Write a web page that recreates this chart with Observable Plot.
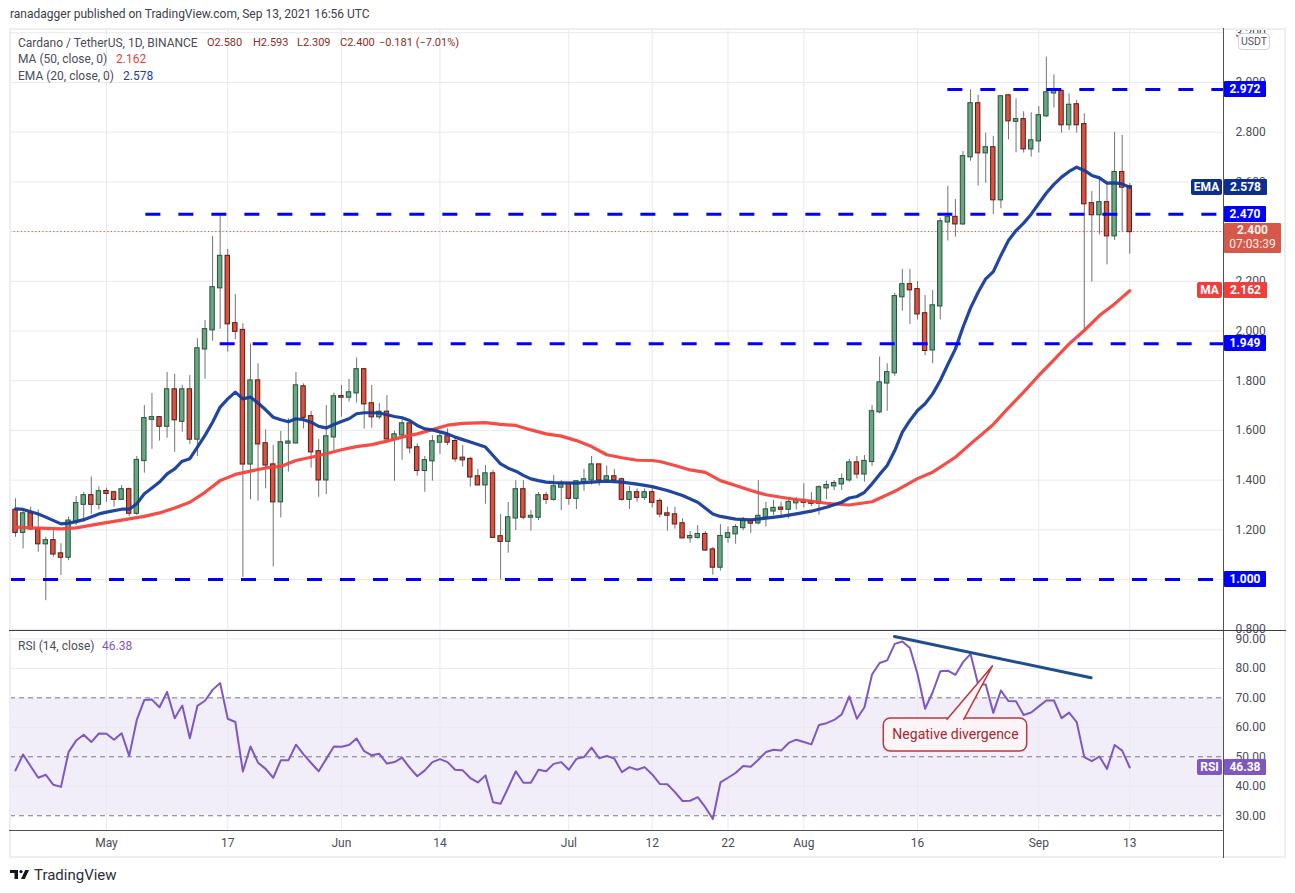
<!DOCTYPE html>
<html><head><meta charset="utf-8">
<script src="https://cdn.jsdelivr.net/npm/d3@7"></script>
<script src="https://cdn.jsdelivr.net/npm/@observablehq/plot@0.6"></script>
<style>
body{margin:0;background:#fff;font-family:Roboto,"Open Sans",sans-serif;}
#root{position:relative;width:1295px;height:893px;overflow:hidden;background:#fff}
#root svg{position:absolute;left:0}
.t{position:absolute;white-space:nowrap;font-size:12px;line-height:16px;color:#4a4d57}
.lbl{position:absolute;color:#fff;font-weight:700;font-size:12px;text-align:center;box-sizing:border-box;white-space:nowrap}
.ln{position:absolute}
</style></head><body><div id="root"></div><script>
// ---------- data ----------
const startDay = "2021-04-19";
const open = [1.278,1.190,1.264,1.200,1.144,1.156,1.103,1.090,1.235,1.303,
1.337,1.303,1.354,1.349,1.323,1.361,1.267,1.479,1.645,1.651,
1.617,1.763,1.637,1.763,1.565,1.928,2.005,2.174,2.300,2.029,
2.002,1.465,1.799,1.546,1.461,1.313,1.549,1.550,1.775,1.655,
1.514,1.401,1.574,1.736,1.734,1.751,1.844,1.707,1.655,1.673,
1.566,1.582,1.626,1.530,1.439,1.478,1.553,1.574,1.555,1.488,
1.483,1.413,1.381,1.425,1.172,1.154,1.248,1.361,1.251,1.251,
1.337,1.323,1.372,1.384,1.327,1.393,1.401,1.461,1.401,1.413,
1.401,1.323,1.349,1.331,1.349,1.314,1.264,1.260,1.224,1.168,
1.170,1.181,1.119,1.050,1.170,1.184,1.209,1.233,1.228,1.251,
1.276,1.287,1.283,1.309,1.318,1.314,1.307,1.369,1.377,1.385,
1.401,1.469,1.425,1.475,1.675,1.791,1.832,2.138,2.186,2.166,
2.069,1.924,2.101,2.439,2.457,2.431,2.701,2.914,2.717,2.737,
2.528,2.946,2.844,2.850,2.733,2.765,2.866,2.958,2.964,2.830,
2.910,2.830,2.512,2.468,2.516,2.383,2.637,2.580];
const high = [1.325,1.284,1.291,1.280,1.170,1.197,1.144,1.251,1.334,1.351,
1.412,1.372,1.368,1.355,1.378,1.368,1.495,1.700,1.749,1.656,
1.833,1.825,1.781,1.821,1.969,2.042,2.380,2.473,2.328,2.147,
2.029,1.948,1.868,1.602,1.539,1.596,1.647,1.833,1.787,1.677,
1.563,1.700,1.750,1.781,1.805,1.891,1.849,1.781,1.708,1.740,
1.597,1.643,1.632,1.546,1.495,1.579,1.593,1.606,1.573,1.539,
1.492,1.443,1.459,1.439,1.262,1.310,1.398,1.398,1.278,1.350,
1.351,1.419,1.398,1.388,1.396,1.443,1.495,1.463,1.457,1.443,
1.409,1.374,1.365,1.365,1.374,1.325,1.291,1.291,1.245,1.193,
1.217,1.193,1.130,1.221,1.211,1.221,1.250,1.244,1.398,1.311,
1.318,1.311,1.321,1.331,1.385,1.350,1.378,1.396,1.398,1.425,
1.483,1.495,1.499,1.700,1.895,1.868,2.152,2.248,2.248,2.199,
2.143,2.163,2.454,2.582,2.529,2.722,2.971,2.948,2.796,2.783,
2.948,2.952,2.934,2.882,2.878,2.903,3.102,3.030,2.968,2.954,
2.928,2.874,2.561,2.622,2.592,2.799,2.787,2.593];
const low = [1.170,1.123,1.197,1.110,0.915,1.090,1.016,1.076,1.217,1.231,
1.262,1.280,1.311,1.291,1.318,1.254,1.258,1.428,1.524,1.557,
1.569,1.512,1.593,1.543,1.495,1.806,1.959,2.007,1.915,1.966,
1.009,1.321,1.315,1.365,1.050,1.248,1.432,1.545,1.606,1.448,
1.331,1.342,1.519,1.653,1.714,1.710,1.605,1.609,1.643,1.549,
1.396,1.480,1.506,1.416,1.351,1.396,1.503,1.539,1.472,1.452,
1.372,1.377,1.303,1.166,0.999,1.106,1.197,1.240,1.195,1.237,
1.302,1.315,1.278,1.299,1.282,1.355,1.380,1.376,1.388,1.385,
1.315,1.282,1.311,1.318,1.288,1.248,1.195,1.203,1.164,1.146,
1.162,1.114,1.017,1.034,1.146,1.142,1.196,1.186,1.220,1.211,
1.258,1.254,1.244,1.280,1.288,1.294,1.259,1.321,1.358,1.358,
1.392,1.405,1.392,1.455,1.667,1.677,1.818,2.080,2.026,2.045,
1.901,1.868,2.045,2.362,2.378,2.425,2.683,2.583,2.595,2.468,
2.492,2.769,2.717,2.716,2.700,2.716,2.858,2.897,2.796,2.807,
2.796,1.995,2.197,2.387,2.266,2.364,2.398,2.309];
const close = [1.190,1.264,1.204,1.144,1.156,1.103,1.090,1.235,1.305,1.337,
1.303,1.353,1.347,1.323,1.361,1.267,1.479,1.647,1.651,1.617,
1.763,1.643,1.763,1.565,1.928,2.005,2.174,2.300,2.029,1.999,
1.465,1.799,1.546,1.461,1.313,1.550,1.553,1.779,1.653,1.514,
1.401,1.574,1.735,1.734,1.751,1.844,1.707,1.655,1.673,1.566,
1.582,1.626,1.530,1.439,1.478,1.554,1.574,1.553,1.486,1.482,
1.413,1.381,1.425,1.170,1.154,1.248,1.361,1.251,1.254,1.337,
1.323,1.373,1.384,1.327,1.393,1.401,1.461,1.401,1.413,1.401,
1.323,1.349,1.331,1.349,1.311,1.264,1.259,1.224,1.168,1.173,
1.181,1.119,1.050,1.173,1.184,1.209,1.233,1.227,1.254,1.280,
1.286,1.283,1.310,1.318,1.311,1.307,1.369,1.378,1.386,1.402,
1.469,1.425,1.475,1.675,1.791,1.832,2.138,2.186,2.166,2.069,
1.922,2.101,2.439,2.457,2.431,2.701,2.914,2.717,2.737,2.528,
2.942,2.846,2.850,2.733,2.765,2.866,2.958,2.964,2.830,2.908,
2.830,2.512,2.468,2.516,2.383,2.637,2.579,2.400];
const rsi = [45.4,50.8,46.8,42.9,43.9,40.5,39.8,51.6,55.5,57.5,
55.0,57.9,57.8,55.8,58.0,50.3,62.5,69.3,69.4,66.8,
72.0,63.1,67.4,56.3,67.3,69.0,72.7,75.0,62.9,61.8,
45.0,53.5,48.0,45.9,42.9,48.8,48.8,54.1,50.8,47.9,
45.1,49.3,53.5,53.4,54.0,56.2,51.9,50.5,51.0,47.7,
48.2,49.7,46.3,43.4,45.4,48.2,49.2,48.2,45.6,45.4,
42.8,41.3,43.7,34.6,34.1,39.5,45.1,41.2,41.2,45.6,
45.1,47.6,48.2,45.6,49.3,49.9,53.1,49.5,50.3,49.4,
44.8,46.5,45.6,46.5,44.0,40.8,40.7,38.0,35.0,35.1,
36.3,32.9,28.9,41.3,42.9,44.5,46.9,46.6,49.0,51.6,
52.4,52.1,54.7,55.8,55.0,54.2,60.8,61.4,62.5,64.4,
70.5,62.9,66.8,77.9,81.8,82.7,88.3,89.1,86.9,78.1,
66.3,71.9,79.0,79.2,77.8,82.1,84.9,74.5,74.5,64.9,
72.5,68.9,68.8,64.2,65.0,67.1,69.1,69.1,63.1,65.0,
61.8,49.9,48.5,50.1,45.9,54.0,52.1,46.38];
const emaDay = [1,2,4,5,7,8,9,10,12,13,15,16,17,18,19,20,21,22,23,24,25,26,27,28,29,30,
31,32,33,34,35,36,37,38,39,40,41,42,43,44,45,46,47,48,49,50,51,52,53,54,55,56,
57,58,59,60,61,62,63,64,65,66,67,68,69,70,71,72,73,75,77,79,81,83,85,87,89,91,93,94,96,98,
100,102,104,106,108,110,111,112,113,114,115,116,117,118,119,120,121,122,123,124,125,126,127,
128,129,130,131,132,133,134,135,136,137,138,139,140,141,142,143,144,145,146,147,148];
const emaValue = [1.284,1.282,1.264,1.251,1.224,1.227,1.233,1.241,1.264,1.271,1.283,1.283,1.305,1.345,1.368,1.392,1.425,1.445,1.476,1.486,1.533,1.580,1.633,1.694,1.727,1.754,
1.727,1.734,1.710,1.683,1.653,1.643,1.635,1.647,1.643,1.633,1.616,1.610,1.624,1.636,1.647,1.667,1.671,1.671,1.670,1.663,1.656,1.651,1.640,1.620,1.606,1.602,
1.594,1.586,1.573,1.563,1.553,1.543,1.533,1.499,1.465,1.448,1.436,1.419,1.405,1.398,1.392,1.390,1.389,1.388,1.392,1.396,1.392,1.384,1.374,1.358,1.338,1.311,1.264,1.254,1.243,1.240,
1.247,1.254,1.264,1.275,1.291,1.311,1.328,1.334,1.351,1.385,1.423,1.459,1.519,1.593,1.640,1.680,1.707,1.747,1.801,1.865,1.928,2.015,2.093,
2.156,2.210,2.239,2.304,2.364,2.404,2.434,2.470,2.513,2.555,2.590,2.619,2.642,2.659,2.646,2.626,2.616,2.595,2.596,2.592,2.578];
const maDay = [1,4,7,9,12,16,18,20,22,24,26,28,30,32,34,36,38,40,42,44,46,48,50,52,54,56,58,60,63,65,67,69,71,73,75,77,79,81,83,85,86,88,90,92,94,96,98,100,102,104,106,108,110,111,114,117,120,122,125,127,130,132,134,136,138,140,142,144,146,148];
const maValue = [1.211,1.207,1.204,1.208,1.224,1.244,1.254,1.268,1.288,1.311,1.351,1.398,1.423,1.436,1.449,1.455,1.479,1.492,1.506,1.522,1.535,1.543,1.557,1.573,1.586,1.603,1.621,1.628,1.631,1.624,1.620,1.602,1.586,1.577,1.559,1.535,1.502,1.490,1.480,1.479,1.475,1.459,1.441,1.431,1.398,1.378,1.358,1.341,1.331,1.322,1.315,1.307,1.302,1.300,1.313,1.355,1.406,1.432,1.492,1.546,1.624,1.691,1.754,1.821,1.884,1.948,2.002,2.062,2.109,2.162];
const priceTicks = [0.8,1.0,1.2,1.4,1.6,1.8,2.0,2.2,2.4,2.6,2.8,3.0,3.2];
const hiddenPriceTicks = [1.0, 2.4];   // fully covered by the level / last-price tags
const rsiTicks = [30,40,50,60,70,80,90];
const rsiDashed = [30,50,70];
const tickDates = ["2021-05-01","2021-05-17","2021-06-01","2021-06-14","2021-07-01","2021-07-12","2021-07-22","2021-08-01","2021-08-16","2021-09-01","2021-09-13"];
const tickLabels = ["May","17","Jun","14","Jul","12","22","Aug","16","Sep","13"];
const levelValues = [2.972, 2.470, 1.949, 1.000];
const levelStartDay = [124, 18.2, 28, 0.34];
const lastPrice = 2.400;
const lastTime = "07:03:39";
const lastEma = 2.578, lastMa = 2.162, lastRsi = 46.38;
const divDay = [116.96, 142.9], divRsi = [90.8, 76.8];
const calloutText = "Negative divergence";
const calloutDay = [115.55, 134.47], calloutRsi = [51.8, 63.0];
const pointerDay = [123.9, 129.9, 126.1], pointerRsi = [62.7, 80.9, 62.7];

// ---------- helpers ----------
const DAY = 864e5;
const t0 = Date.parse(startDay);
const dayToDate = n => new Date(t0 + (n - 1) * DAY);
const xDomain = [dayToDate(0.34), dayToDate(160.5)];
const tickD = tickDates.map(s => new Date(s));
const labelOf = d => tickLabels[tickD.findIndex(t => +t === +d)] ?? "";
const candles = open.map((o, i) => ({date: dayToDate(i + 1), open: o, high: high[i], low: low[i], close: close[i], up: close[i] >= o}));
const ups = candles.filter(d => d.up), downs = candles.filter(d => !d.up);
const ema = emaDay.map((n, i) => ({date: dayToDate(n), value: emaValue[i]}));
const ma = maDay.map((n, i) => ({date: dayToDate(n), value: maValue[i]}));
const levels = levelValues.map((v, i) => ({value: v, start: dayToDate(levelStartDay[i]), end: xDomain[1]}));
const rsiData = rsi.map((v, i) => ({date: dayToDate(i + 1), value: v}));
const divData = divDay.map((n, i) => ({date: dayToDate(n), value: divRsi[i]}));
const callout = {x1: dayToDate(calloutDay[0]), x2: dayToDate(calloutDay[1]), y1: calloutRsi[0], y2: calloutRsi[1],
  xc: dayToDate((calloutDay[0] + calloutDay[1]) / 2), yc: (calloutRsi[0] + calloutRsi[1]) / 2};
const pointer = pointerDay.map((n, i) => ({date: dayToDate(n), value: pointerRsi[i]}));
const band = [{x1: xDomain[0], x2: xDomain[1], y1: 30, y2: 70}];
const half = 0.29;
const bx1 = d => new Date(+d.date - half * DAY), bx2 = d => new Date(+d.date + half * DAY);
const GRID = "#e8e9ee";
const W = 1295;
const style = {fontFamily: "Roboto, 'Open Sans', sans-serif", fontSize: "12px", color: "#4a4d57", background: "transparent", overflow: "visible"};
const root = document.getElementById("root");
const fmt3 = d3.format(".3f");

// ---------- price pane ----------
const pricePlot = Plot.plot({
  width: W, height: 630, marginLeft: 10, marginRight: 71, marginTop: 30, marginBottom: 2,
  style,
  x: {type: "utc", domain: xDomain, axis: null},
  y: {domain: [0.803, 3.209], axis: "right", ticks: priceTicks,
      tickFormat: v => hiddenPriceTicks.some(h => Math.abs(h - v) < 1e-9) ? "" : fmt3(v),
      tickSize: 0, tickPadding: 11, label: null},
  marks: [
    Plot.ruleY(priceTicks, {stroke: GRID}),
    Plot.ruleX(tickD, {stroke: GRID}),
    Plot.ruleY([lastPrice], {stroke: "#d75442", strokeWidth: 1, strokeDasharray: "1.2,2.4"}),
    Plot.ruleX(candles, {x: "date", y1: "low", y2: "high", stroke: "#737375", strokeWidth: 1}),
    Plot.rect(ups, {x1: bx1, x2: bx2, y1: "open", y2: "close", fill: "#6ba583", stroke: "#225437", strokeWidth: 1, insetTop: -0.6, insetBottom: -0.6}),
    Plot.rect(downs, {x1: bx1, x2: bx2, y1: "open", y2: "close", fill: "#d75442", stroke: "#5b1a13", strokeWidth: 1, insetTop: -0.6, insetBottom: -0.6}),
    Plot.line(ma, {x: "date", y: "value", stroke: "#f4433b", strokeWidth: 3.2, strokeOpacity: 0.95}),
    Plot.line(ema, {x: "date", y: "value", stroke: "#153c9a", strokeWidth: 3.2, strokeOpacity: 0.95}),
    Plot.ruleY(levels, {y: "value", x1: "start", x2: "end", stroke: "#0000ff", strokeWidth: 3, strokeDasharray: "15,18"})
  ]
});
pricePlot.style.top = "0px";
root.appendChild(pricePlot);

// ---------- RSI pane ----------
const rsiPlot = Plot.plot({
  width: W, height: 230, marginLeft: 10, marginRight: 71, marginTop: 1, marginBottom: 30,
  style,
  x: {type: "utc", domain: xDomain, ticks: tickD, tickFormat: labelOf, tickSize: 0, tickPadding: 8, label: null},
  y: {domain: [25.0, 92.5], axis: "right", ticks: rsiTicks, tickFormat: ".2f", tickSize: 0, tickPadding: 11, label: null},
  marks: [
    Plot.rect(band, {x1: "x1", x2: "x2", y1: "y1", y2: "y2", fill: "#7e57c2", fillOpacity: 0.1}),
    Plot.ruleY(rsiTicks.filter(t => !rsiDashed.includes(t)), {stroke: GRID}),
    Plot.ruleX(tickD, {stroke: GRID}),
    Plot.ruleY(rsiDashed, {stroke: "#787b86", strokeDasharray: "5,4"}),
    Plot.line(rsiData, {x: "date", y: "value", stroke: "#7e57c2", strokeWidth: 2, strokeLinejoin: "round"}),
    Plot.line(divData, {x: "date", y: "value", stroke: "#1f4d8e", strokeWidth: 3}),
    Plot.rect([callout], {x1: "x1", x2: "x2", y1: "y1", y2: "y2", fill: "#fcf4f6", stroke: "#b8393f", strokeWidth: 1.5, rx: 7}),
    Plot.line(pointer, {x: "date", y: "value", stroke: "#b8393f", fill: "#fcf4f6", strokeWidth: 1.5}),
    Plot.text([callout], {x: "xc", y: "yc", text: () => calloutText, fill: "#a8262f", fontSize: 14})
  ]
});
rsiPlot.style.top = "630px";
root.appendChild(rsiPlot);

// ---------- overlays ----------
function scaleFn(plot, name) {
  const s = plot.scale(name);
  return s && s.apply ? v => s.apply(v) : d3.scaleLinear(s.domain, s.range);
}
const yP = scaleFn(pricePlot, "y");
const yRs = scaleFn(rsiPlot, "y");
const yR = v => 630 + yRs(v);

function line(l, t, w, h, c) {
  const e = document.createElement("div"); e.className = "ln";
  Object.assign(e.style, {left: l + "px", top: t + "px", width: w + "px", height: h + "px", background: c});
  root.appendChild(e);
}
function box(l, t, w, h, bg, html, extra = {}) {
  const e = document.createElement("div"); e.className = "lbl";
  Object.assign(e.style, {left: l + "px", top: t + "px", width: w + "px", height: h + "px", background: bg,
    lineHeight: (extra.lh || h) + "px", borderRadius: (extra.r ?? 1) + "px", color: extra.color || "#fff"});
  e.innerHTML = html; root.appendChild(e);
}
function text(l, cy, str, color, size = 12, extra = {}) {
  const e = document.createElement("div"); e.className = "t";
  Object.assign(e.style, {left: l + "px", top: (cy - 8) + "px", color, fontSize: size + "px"}, extra);
  e.textContent = str; root.appendChild(e);
}

// frame
const fr = document.createElement("div");
Object.assign(fr.style, {position: "absolute", left: "9px", top: "28px", width: "1277px", height: "830px", border: "2px solid #eceef2", boxSizing: "border-box"});
root.appendChild(fr);
line(1223, 28, 1, 830, "#50535e");
line(9, 629.5, 1277, 1.5, "#3a3d46");
line(9, 830, 1215, 1, "#50535e");

// price labels
levelValues.forEach(v => box(1224, yP(v) - 8, 42, 16, "#0000ff", v.toFixed(3)));
box(1224, yP(lastEma) - 8, 43, 16, "#0c2e8e", lastEma.toFixed(3));
box(1191, yP(lastEma) - 8, 31, 16, "#0c2e8e", "EMA", {r: 2});
box(1224, yP(lastMa) - 8, 43, 16, "#f23d3d", lastMa.toFixed(3));
box(1197, yP(lastMa) - 8, 25, 16, "#f23d3d", "MA", {r: 2});
box(1224, yP(lastPrice) - 8, 57, 30, "#d6584a", lastPrice.toFixed(3) + "<br><span style='font-weight:400'>" + lastTime + "</span>", {lh: 14, color: "#fff3f0"});
// USDT tag
const u = document.createElement("div");
Object.assign(u.style, {position: "absolute", left: "1238px", top: "33px", width: "32px", height: "17px", border: "1px solid #d1d4dc", borderRadius: "4px", background: "#fff", boxSizing: "border-box", fontSize: "10.5px", lineHeight: "15px", textAlign: "center", color: "#50535e"});
u.textContent = "USDT"; root.appendChild(u);
// RSI labels
box(1224, yR(lastRsi) - 8, 42, 16, "#7e57c2", lastRsi.toFixed(2));
box(1197, yR(lastRsi) - 8, 25, 16, "#7e57c2", "RSI", {r: 2});

// legends / header
text(10, 14, "ranadagger published on TradingView.com, Sep 13, 2021 16:56 UTC", "#3b3e47", 12);
text(18, 43, "Cardano / TetherUS, 1D, BINANCE", "#4a4d57");
const vc = "#8a2d24";
text(207, 43, "O2.580", vc, 11); text(253, 43, "H2.593", vc, 11); text(297, 43, "L2.309", vc, 11); text(340, 43, "C2.400", vc, 11);
text(379, 43, "\u22120.181 (\u22127.01%)", vc, 11);
text(18, 59, "MA (50, close, 0)", "#4a4d57"); text(116, 59, lastMa.toFixed(3), "#f23c3c");
text(18, 76, "EMA (20, close, 0)", "#4a4d57"); text(123, 76, lastEma.toFixed(3), "#1d3fa3");
text(18, 646, "RSI (14, close)", "#4a4d57"); text(102, 646, lastRsi.toFixed(2), "#7e57c2");

// logo
const logo = document.createElement("div");
Object.assign(logo.style, {position: "absolute", left: "10px", top: "866px", height: "18px", display: "flex", alignItems: "center", gap: "4px"});
logo.innerHTML = "<svg width='20' height='10' viewBox='0 0 20 10' style='position:static'><path d='M0 0h8v9H4.5V3H0z' fill='#131722'/><circle cx='11' cy='1.6' r='1.6' fill='#131722'/><path d='M11 9l4.2-9H19l-4.2 9z' fill='#131722'/></svg><span style='font-size:15px;color:#2a2e39;font-family:Roboto,sans-serif'>TradingView</span>";
root.appendChild(logo);
</script></body></html>
